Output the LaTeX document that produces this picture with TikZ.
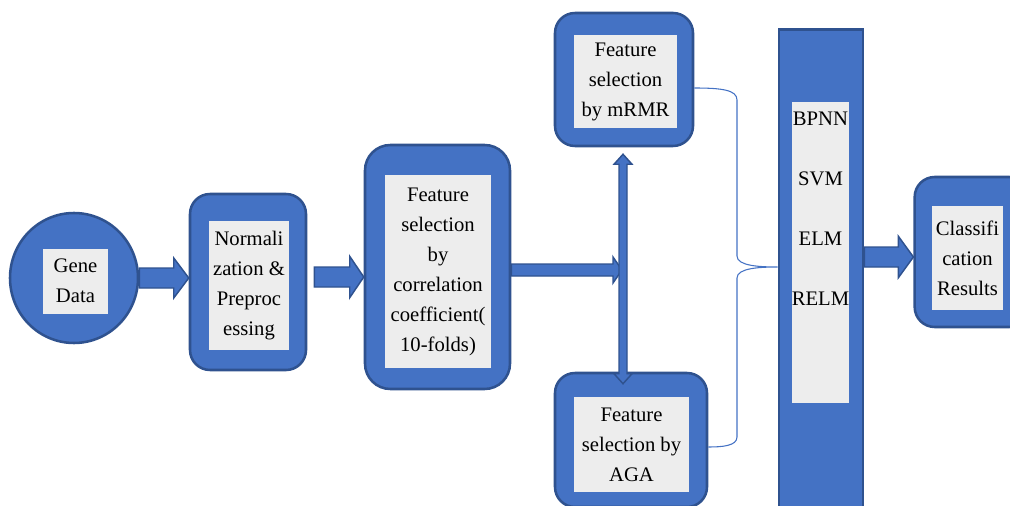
\documentclass[tikz,border=0pt]{standalone}
\usepackage{fontspec}
\setmainfont{Liberation Serif}
\usetikzlibrary{shapes.geometric,calc}

\definecolor{boxblue}{HTML}{4472C4}
\definecolor{boxedge}{HTML}{2F528F}
\definecolor{panel}{HTML}{EDEDED}

\tikzset{
  outer/.style={draw=boxedge, line width=1.9pt, fill=boxblue, rounded corners=15pt, inner sep=0pt},
  panelbox/.style={fill=panel, inner sep=0pt, align=center, font=\fontsize{15.5}{22.5}\selectfont},
  fat/.style={draw=boxedge, line width=1.1pt, fill=boxblue, line join=miter},
  bracket/.style={draw=boxblue, line width=0.8pt},
}

% horizontal block arrow: start point, end point, shaft half width, head half width, head length (pt)
\newcommand{\blockarrow}[5]{%
  \path[fat] let \p1=#1, \p2=#2 in
    (\x1,\y1+#3) -- (\x2-#5,\y1+#3) -- (\x2-#5,\y1+#4) -- (\x2,\y1)
    -- (\x2-#5,\y1-#4) -- (\x2-#5,\y1-#3) -- (\x1,\y1-#3) -- cycle;}

\begin{document}
\begin{tikzpicture}[x=0.75pt, y=-0.75pt]
\useasboundingbox (0,0) rectangle (1010,506);
\clip (0,0) rectangle (1010,506);

% Gene data source
\node[ellipse, draw=boxedge, line width=1.9pt, fill=boxblue, minimum width=96pt, minimum height=97.5pt, inner sep=0pt] (gene) at (74,278) {};
\node[panelbox, minimum width=48.75pt, minimum height=48.75pt] (geneT) at (75.5,281) {Gene\\Data};

% Normalization
\node[outer, minimum width=87pt, minimum height=132pt] (norm) at (248,282) {};
\node[panelbox, minimum width=60pt, minimum height=96.75pt] (normT) at (249,285.5) {Normali\\zation \&\\Preproc\\essing};

% Correlation coefficient selection
\node[outer, rounded corners=19pt, minimum width=108.75pt, minimum height=183pt] (corr) at (437.5,267) {};
\node[panelbox, minimum width=79.5pt, minimum height=144.75pt] (corrT) at (438,271.5) {Feature\\selection\\by\\correlation\\coefficient(\\10-folds)};

% mRMR selection
\node[outer, minimum width=103.5pt, minimum height=99.75pt] (mrmr) at (624,79.5) {};
\node[panelbox, minimum width=77.25pt, minimum height=69.75pt] (mrmrT) at (625.5,81.5) {Feature\\selection\\by mRMR};

% AGA selection
\node[outer, minimum width=114pt, minimum height=100.5pt] (aga) at (631,440) {};
\node[panelbox, minimum width=86.25pt, minimum height=71.25pt] (agaT) at (631.5,444.5) {Feature\\selection by\\AGA};

% Classifier column
\node[draw=boxedge, line width=1.9pt, fill=boxblue, inner sep=0pt, minimum width=63pt, minimum height=370pt] (bar) at (821,276) {};
\node[fill=panel, inner sep=0pt, minimum width=42.75pt, minimum height=225.75pt] (barT) at (820.5,252.5) {};
\node[panelbox, fill=none, anchor=north] (models) at ($(barT.north)+(0,10)$) {BPNN\\[22.5pt]SVM\\[22.5pt]ELM\\[22.5pt]RELM};

% Results
\node[outer, minimum width=86pt, minimum height=112.5pt] (cls) at (972,252) {};
\node[panelbox, minimum width=53.25pt, minimum height=77.25pt] (clsT) at (967.5,258) {Classifi\\cation\\Results};

% Block arrows between stages
\blockarrow{(gene.east)}{(norm.west)}{7.5pt}{15pt}{11.25pt}
\blockarrow{($(norm.east)+(5.25pt,3.75pt)$)}{(corr.west)}{7.5pt}{15.5pt}{10.5pt}
\coordinate (splitx) at (622,270);
\blockarrow{(corr.east |- splitx)}{(splitx)}{4.5pt}{9.75pt}{6.75pt}
\blockarrow{(bar.east |- 0,257)}{(cls.west)}{7.5pt}{15.5pt}{11.25pt}

% Double-headed vertical arrow to both selectors
\coordinate (up) at ($(mrmr.south)+(-1,7)$);
\coordinate (dn) at ($(aga.north)+(-8,12)$);
\path[fat] let \p1=(up), \p2=(dn) in
  (\x1,\y1) -- (\x1+6.75pt,\y1-7.5pt) -- (\x1+3pt,\y1-7.5pt) -- (\x1+3pt,\y2+7.5pt)
  -- (\x1+6.75pt,\y2+7.5pt) -- (\x1,\y2) -- (\x1-6.75pt,\y2+7.5pt) -- (\x1-3pt,\y2+7.5pt)
  -- (\x1-3pt,\y1-7.5pt) -- (\x1-6.75pt,\y1-7.5pt) -- cycle;

% Brace gathering both selectors into the classifiers
\coordinate (tip) at (bar.west |- 0,267);
\draw[bracket] (mrmr.east |- 0,88) .. controls (722,88) and (737,90) .. (737,100)
  -- (737,256) .. controls (737,266) and (760,267) .. (tip)
  .. controls (760,267) and (737,268) .. (737,278)
  -- (737,437) .. controls (737,446) and (722,447) .. (aga.east |- 0,447);
\end{tikzpicture}
\end{document}
